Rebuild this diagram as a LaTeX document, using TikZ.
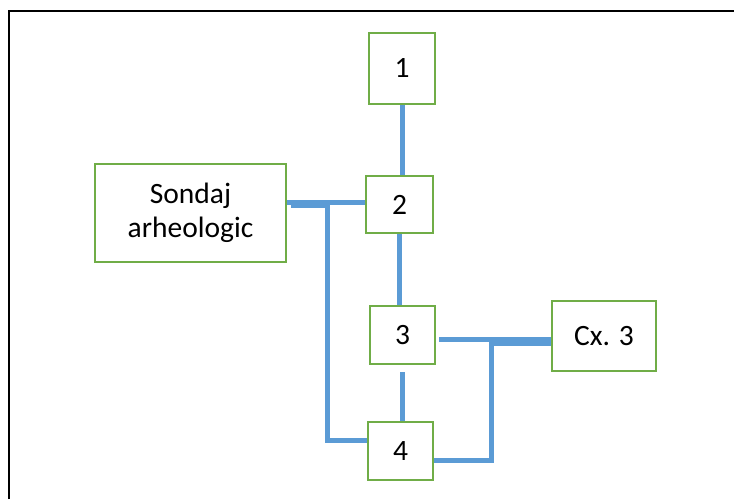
\documentclass[tikz,border=0pt]{standalone}
\usepackage{fontspec}
\setmainfont{Carlito}
\definecolor{boxgreen}{HTML}{70AD47}
\definecolor{connblue}{HTML}{5B9BD5}
\begin{document}
\begin{tikzpicture}[x=1pt,y=-1pt,
  box/.style={draw=boxgreen, line width=2.5pt, fill=white, inner sep=0pt,
    font=\fontsize{29.5}{34}\selectfont, align=center},
  conn/.style={draw=connblue, line width=5pt}]
\useasboundingbox (0,0) rectangle (734,499);
\draw[line width=2.5pt] (9,499) -- (9,11) -- (734,11);
\node[box, minimum width=66pt, minimum height=71pt] (b1) at (402,68.5) {1};
\node[box, minimum width=67pt, minimum height=57pt] (b2) at (399.5,204.5) {2};
\node[box, minimum width=65pt, minimum height=58pt] (b3) at (402.5,335) {3};
\node[box, minimum width=65pt, minimum height=58pt] (b4) at (400.5,451) {4};
\node[box, minimum width=191pt, minimum height=98pt] (s) at (190.5,213) {Sondaj\\arheologic};
\node[box, minimum width=104pt, minimum height=70pt] (cx) at (604,336) {Cx. 3};
\coordinate (sA) at (327,205.5);
\coordinate (sB) at (327,440);
\coordinate (cA) at (491,343.5);
\coordinate (cB) at (491,460);
\draw[conn] (b1.south) -- (b1.south |- b2.north);
\draw[conn] (b2.south) -- (b2.south |- b3.north);
\draw[conn] (b3.south |- 0,372) -- (b3.south |- b4.north);
\draw[conn] (s.east |- 0,202) -- (b2.west |- 0,202);
\draw[conn] ([xshift=4pt]s.east |- sA) -- (sA) -- (sB) -- (b4.west |- sB);
\draw[conn] ([xshift=3pt]b3.east |- 0,339) -- (cx.west |- 0,339);
\draw[conn] (cx.west |- cA) -- (cA) -- (cB) -- (b4.east |- cB);
\end{tikzpicture}
\end{document}
